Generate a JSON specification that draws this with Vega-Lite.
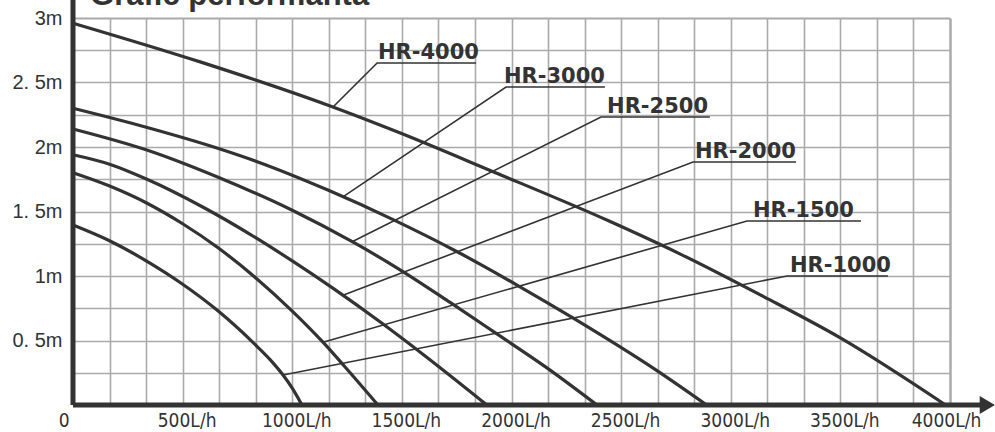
{
  "$schema": "https://vega.github.io/schema/vega-lite/v6.json",
  "width": 877,
  "height": 387,
  "autosize": {"type": "none"},
  "padding": {"left": 73, "top": 18, "right": 45, "bottom": 27},
  "background": "white",
  "config": {"view": {"stroke": null}},
  "datasets": {
    "curves": [
      {"model": "HR-4000", "q": 0, "h": 2.96},
      {"model": "HR-4000", "q": 580, "h": 2.66},
      {"model": "HR-4000", "q": 1170, "h": 2.32},
      {"model": "HR-4000", "q": 1490, "h": 2.11},
      {"model": "HR-4000", "q": 1900, "h": 1.82},
      {"model": "HR-4000", "q": 2440, "h": 1.43},
      {"model": "HR-4000", "q": 2770, "h": 1.17},
      {"model": "HR-4000", "q": 3150, "h": 0.84},
      {"model": "HR-4000", "q": 3500, "h": 0.52},
      {"model": "HR-4000", "q": 3980, "h": 0},
      {"model": "HR-3000", "q": 0, "h": 2.3},
      {"model": "HR-3000", "q": 330, "h": 2.155},
      {"model": "HR-3000", "q": 660, "h": 1.99},
      {"model": "HR-3000", "q": 840, "h": 1.886},
      {"model": "HR-3000", "q": 1160, "h": 1.668},
      {"model": "HR-3000", "q": 1460, "h": 1.437},
      {"model": "HR-3000", "q": 1750, "h": 1.19},
      {"model": "HR-3000", "q": 2025, "h": 0.93},
      {"model": "HR-3000", "q": 2280, "h": 0.675},
      {"model": "HR-3000", "q": 2660, "h": 0.27},
      {"model": "HR-3000", "q": 2890, "h": 0},
      {"model": "HR-2500", "q": 0, "h": 2.14},
      {"model": "HR-2500", "q": 340, "h": 1.975},
      {"model": "HR-2500", "q": 670, "h": 1.76},
      {"model": "HR-2500", "q": 1000, "h": 1.51},
      {"model": "HR-2500", "q": 1280, "h": 1.26},
      {"model": "HR-2500", "q": 1490, "h": 1.05},
      {"model": "HR-2500", "q": 1720, "h": 0.795},
      {"model": "HR-2500", "q": 1930, "h": 0.555},
      {"model": "HR-2500", "q": 2160, "h": 0.29},
      {"model": "HR-2500", "q": 2390, "h": 0},
      {"model": "HR-2000", "q": 0, "h": 1.94},
      {"model": "HR-2000", "q": 170, "h": 1.865},
      {"model": "HR-2000", "q": 340, "h": 1.748},
      {"model": "HR-2000", "q": 600, "h": 1.527},
      {"model": "HR-2000", "q": 810, "h": 1.321},
      {"model": "HR-2000", "q": 1000, "h": 1.117},
      {"model": "HR-2000", "q": 1190, "h": 0.9},
      {"model": "HR-2000", "q": 1400, "h": 0.645},
      {"model": "HR-2000", "q": 1600, "h": 0.388},
      {"model": "HR-2000", "q": 1888, "h": 0},
      {"model": "HR-1500", "q": 0, "h": 1.8},
      {"model": "HR-1500", "q": 170, "h": 1.695},
      {"model": "HR-1500", "q": 340, "h": 1.562},
      {"model": "HR-1500", "q": 500, "h": 1.405},
      {"model": "HR-1500", "q": 660, "h": 1.221},
      {"model": "HR-1500", "q": 830, "h": 0.991},
      {"model": "HR-1500", "q": 1000, "h": 0.728},
      {"model": "HR-1500", "q": 1140, "h": 0.487},
      {"model": "HR-1500", "q": 1240, "h": 0.297},
      {"model": "HR-1500", "q": 1391, "h": 0},
      {"model": "HR-1000", "q": 0, "h": 1.395},
      {"model": "HR-1000", "q": 164, "h": 1.275},
      {"model": "HR-1000", "q": 351, "h": 1.1},
      {"model": "HR-1000", "q": 497, "h": 0.94},
      {"model": "HR-1000", "q": 661, "h": 0.73},
      {"model": "HR-1000", "q": 830, "h": 0.47},
      {"model": "HR-1000", "q": 900, "h": 0.35},
      {"model": "HR-1000", "q": 958, "h": 0.232},
      {"model": "HR-1000", "q": 1000, "h": 0.13},
      {"model": "HR-1000", "q": 1044, "h": 0}
    ],
    "leaders": [
      {"model": "HR-4000", "o": 1, "q": 1186, "h": 2.31},
      {"model": "HR-4000", "o": 2, "q": 1387, "h": 2.651},
      {"model": "HR-4000", "o": 3, "q": 1838, "h": 2.651},
      {"model": "HR-3000", "o": 1, "q": 1231, "h": 1.613},
      {"model": "HR-3000", "o": 2, "q": 1975, "h": 2.465},
      {"model": "HR-3000", "o": 3, "q": 2426, "h": 2.465},
      {"model": "HR-2500", "o": 1, "q": 1273, "h": 1.265},
      {"model": "HR-2500", "o": 2, "q": 2408, "h": 2.233},
      {"model": "HR-2500", "o": 3, "q": 2905, "h": 2.233},
      {"model": "HR-2000", "o": 1, "q": 1231, "h": 0.85},
      {"model": "HR-2000", "o": 2, "q": 2828, "h": 1.884},
      {"model": "HR-2000", "o": 3, "q": 3298, "h": 1.884},
      {"model": "HR-1500", "o": 1, "q": 1140, "h": 0.487},
      {"model": "HR-1500", "o": 2, "q": 3074, "h": 1.426},
      {"model": "HR-1500", "o": 3, "q": 3594, "h": 1.426},
      {"model": "HR-1000", "o": 1, "q": 958, "h": 0.232},
      {"model": "HR-1000", "o": 2, "q": 3257, "h": 1.0},
      {"model": "HR-1000", "o": 3, "q": 3717, "h": 1.0}
    ],
    "labels": [
      {"model": "HR-4000", "q": 1391, "h": 2.651},
      {"model": "HR-3000", "q": 1966, "h": 2.465},
      {"model": "HR-2500", "q": 2436, "h": 2.233},
      {"model": "HR-2000", "q": 2837, "h": 1.884},
      {"model": "HR-1500", "q": 3101, "h": 1.426},
      {"model": "HR-1000", "q": 3270, "h": 1.0}
    ],
    "axes": [
      {"axis": "x", "q": 0, "q2": 4150, "h": 0, "h2": 0},
      {"axis": "y", "q": 0, "q2": 0, "h": 0, "h2": 3.14}
    ],
    "arrow": [{"q": 4164, "h": 0}],
    "heading": [{"text": "Grafic performanta"}]
  },
  "layer": [
    {
      "data": {"name": "curves"},
      "mark": {"type": "line", "interpolate": "monotone", "color": "#333333", "strokeWidth": 3.2},
      "encoding": {
        "x": {
          "field": "q",
          "type": "quantitative",
          "scale": {"domain": [0, 4000], "nice": false, "zero": false},
          "axis": {
            "title": null,
            "values": [0, 166.667, 333.333, 500, 666.667, 833.333, 1000, 1166.667, 1333.333, 1500, 1666.667, 1833.333, 2000, 2166.667, 2333.333, 2500, 2666.667, 2833.333, 3000, 3166.667, 3333.333, 3500, 3666.667, 3833.333, 4000],
            "tickCount": 100,
            "grid": true,
            "gridColor": "#aaaaaa",
            "gridWidth": {"condition": {"test": "datum.value == 4000", "value": 2.5}, "value": 1.6},
            "domain": false,
            "ticks": false,
            "labelFont": "DejaVu Sans Condensed",
            "labelFontSize": 19,
            "labelColor": "#333333",
            "labelPadding": 6,
            "labelFlush": false,
            "labelOverlap": false,
            "labelBound": false,
            "labelAlign": {"condition": {"test": "datum.value == 0", "value": "right"}, "value": "center"},
            "labelOffset": {"condition": {"test": "datum.value == 0 || datum.value == 4000", "value": -4}, "value": 4},
            "labelExpr": "datum.value == 0 ? '0' : (abs(datum.value % 500) < 0.01 ? datum.value + 'L/h' : '')"
          }
        },
        "y": {
          "field": "h",
          "type": "quantitative",
          "scale": {"domain": [0, 3], "nice": false},
          "axis": {
            "title": null,
            "values": [0, 0.25, 0.5, 0.75, 1, 1.25, 1.5, 1.75, 2, 2.25, 2.5, 2.75, 3],
            "tickCount": 100,
            "grid": true,
            "gridColor": "#aaaaaa",
            "gridWidth": {"condition": {"test": "datum.value == 3", "value": 2}, "value": 1.6},
            "domain": false,
            "ticks": false,
            "labelFont": "Liberation Sans",
            "labelFontSize": 20,
            "labelColor": "#333333",
            "labelPadding": 11,
            "labelOverlap": false,
            "labelExpr": "datum.value == 3 ? '3m' : datum.value == 2.5 ? '2. 5m' : datum.value == 2 ? '2m' : datum.value == 1.5 ? '1. 5m' : datum.value == 1 ? '1m' : datum.value == 0.5 ? '0. 5m' : ''"
          }
        },
        "detail": {"field": "model"}
      }
    },
    {
      "data": {"name": "leaders"},
      "mark": {"type": "line", "color": "#333333", "strokeWidth": 1.6},
      "encoding": {
        "x": {"field": "q", "type": "quantitative"},
        "y": {"field": "h", "type": "quantitative"},
        "detail": {"field": "model"},
        "order": {"field": "o"}
      }
    },
    {
      "data": {"name": "labels"},
      "mark": {"type": "text", "align": "left", "baseline": "alphabetic", "dy": -4, "font": "DejaVu Sans", "fontWeight": "bold", "fontSize": 21, "color": "#333333"},
      "encoding": {
        "x": {"field": "q", "type": "quantitative"},
        "y": {"field": "h", "type": "quantitative"},
        "text": {"field": "model"}
      }
    },
    {
      "data": {"name": "heading"},
      "mark": {"type": "text", "align": "left", "baseline": "alphabetic", "font": "Liberation Sans", "fontWeight": "bold", "fontSize": 31, "color": "#333333"},
      "encoding": {
        "x": {"datum": 78, "type": "quantitative"},
        "y": {"datum": 3.1, "type": "quantitative"},
        "text": {"field": "text"}
      }
    },
    {
      "data": {"name": "axes"},
      "mark": {"type": "rule", "color": "#333333", "strokeWidth": 5},
      "encoding": {
        "x": {"field": "q", "type": "quantitative"},
        "x2": {"field": "q2"},
        "y": {"field": "h", "type": "quantitative"},
        "y2": {"field": "h2"}
      }
    },
    {
      "data": {"name": "arrow"},
      "mark": {"type": "point", "shape": "M-0.7,-1L1,0L-0.7,1Z", "size": 324, "filled": true, "color": "#333333", "opacity": 1},
      "encoding": {
        "x": {"field": "q", "type": "quantitative"},
        "y": {"field": "h", "type": "quantitative"}
      }
    }
  ]
}
